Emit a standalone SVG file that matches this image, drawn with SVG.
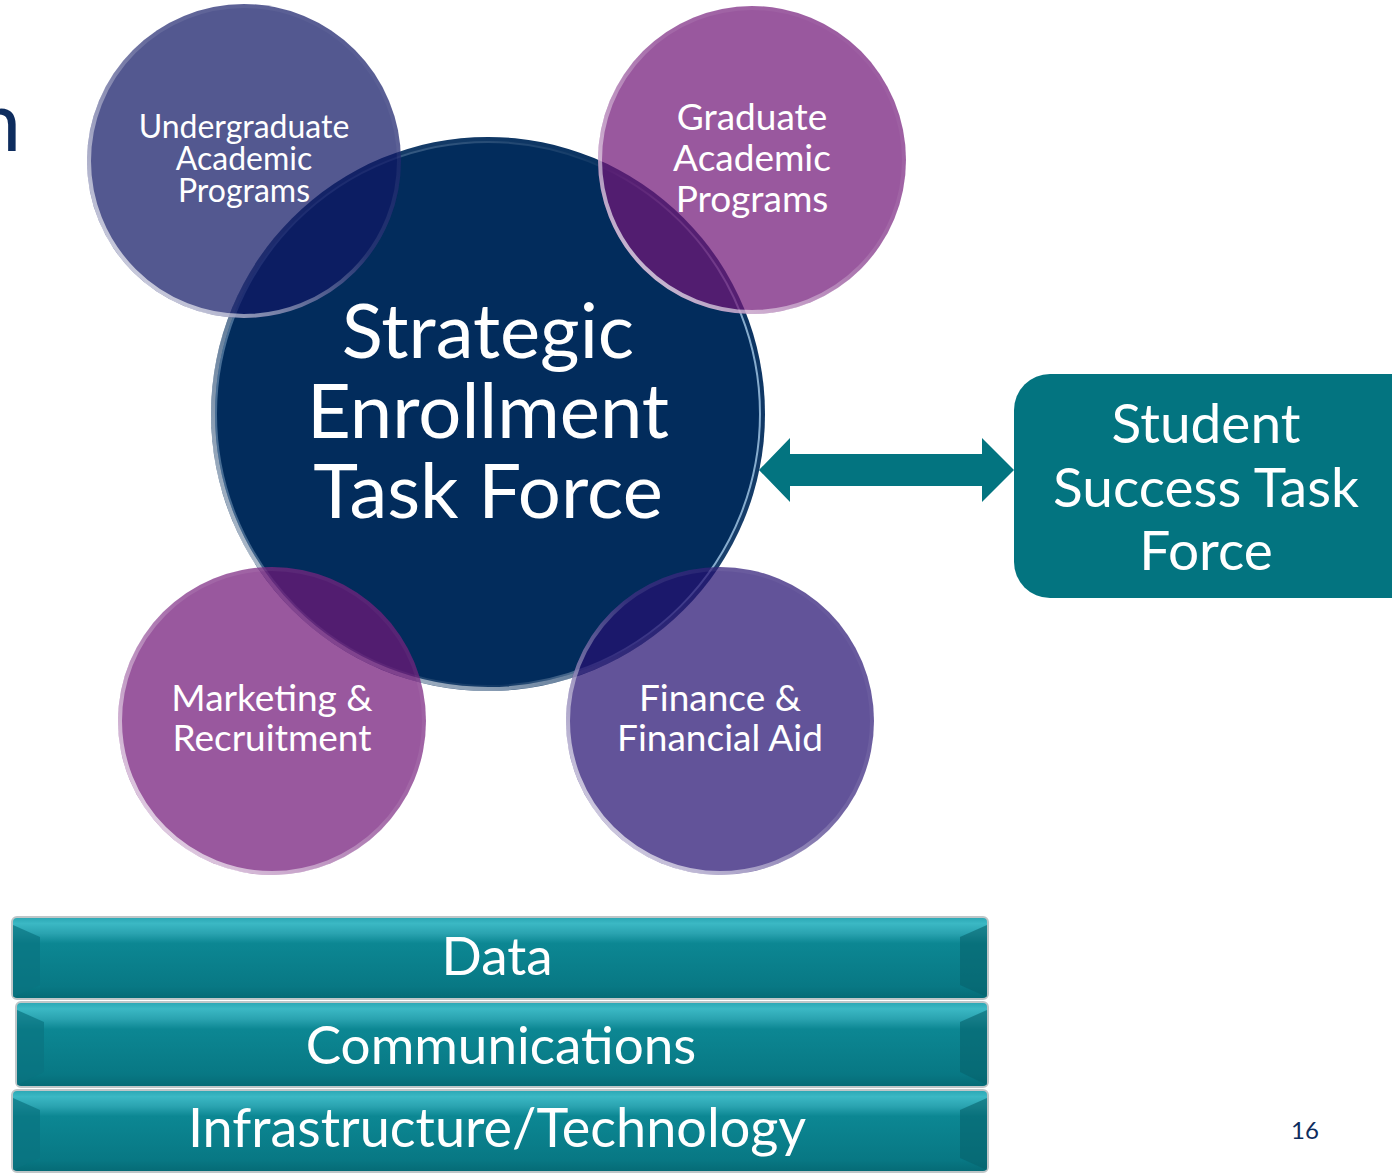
<svg xmlns="http://www.w3.org/2000/svg" width="1392" height="1174" viewBox="0 0 1392 1174">
<defs>
<style>
.t{font-family:Lato,"Open Sans","Liberation Sans",sans-serif;fill:#ffffff;text-anchor:middle}
.rim{fill:none;stroke:url(#rimG);stroke-width:4}
.rim2{fill:none;stroke:url(#rimG2);stroke-width:2}
</style>
<linearGradient id="rimG" x1="1" y1="0" x2="0" y2="1">
<stop offset="0" stop-color="#ffffff" stop-opacity="0"/>
<stop offset="0.45" stop-color="#ffffff" stop-opacity="0.1"/>
<stop offset="0.8" stop-color="#ffffff" stop-opacity="0.6"/>
<stop offset="1" stop-color="#ffffff" stop-opacity="0.85"/>
</linearGradient>
<linearGradient id="rimG2" x1="0" y1="0" x2="1" y2="0.2">
<stop offset="0" stop-color="#bfe3ff" stop-opacity="0.4"/>
<stop offset="0.7" stop-color="#ffffff" stop-opacity="0.05"/>
<stop offset="1" stop-color="#bfe3ff" stop-opacity="0.7"/>
</linearGradient>
<linearGradient id="barG" x1="0" y1="0" x2="0" y2="1">
<stop offset="0" stop-color="#2aa6b3"/>
<stop offset="0.08" stop-color="#3bb8c4"/>
<stop offset="0.2" stop-color="#2aa3b0"/>
<stop offset="0.32" stop-color="#0c8793"/>
<stop offset="0.85" stop-color="#087884"/>
<stop offset="1" stop-color="#056a75"/>
</linearGradient>
</defs>

<rect width="1392" height="1174" fill="#ffffff"/>
<text x="21" y="151" font-family="Lato,'Liberation Sans',sans-serif" font-size="84" fill="#0d2c5e" text-anchor="end">n</text>

<g id="strategic">
<circle cx="488" cy="414" r="277" fill="#022c5c"/>
<circle cx="488" cy="414" r="275" class="rim"/>
<circle cx="488" cy="414" r="272" class="rim2"/>
</g>

<g id="undergrad">
<circle cx="244" cy="161" r="157" fill="#101865" fill-opacity="0.72"/>
<circle cx="244" cy="161" r="155" class="rim"/>
<text class="t" font-size="32"><tspan x="244" y="138">Undergraduate</tspan><tspan x="244" y="170">Academic</tspan><tspan x="244" y="202">Programs</tspan></text>
</g>

<g id="graduate">
<circle cx="752" cy="160" r="154" fill="#721879" fill-opacity="0.72"/>
<circle cx="752" cy="160" r="152" class="rim"/>
<text class="t" font-size="37"><tspan x="752" y="130">Graduate</tspan><tspan x="752" y="171">Academic</tspan><tspan x="752" y="212">Programs</tspan></text>
</g>

<g id="marketing">
<circle cx="272" cy="721" r="154" fill="#721879" fill-opacity="0.72"/>
<circle cx="272" cy="721" r="152" class="rim"/>
<text class="t" font-size="37"><tspan x="272" y="711">Marketing &amp;</tspan><tspan x="272" y="751">Recruitment</tspan></text>
</g>

<g id="finance">
<circle cx="720" cy="721" r="154" fill="#261072" fill-opacity="0.72"/>
<circle cx="720" cy="721" r="152" class="rim"/>
<text class="t" font-size="37"><tspan x="720" y="711">Finance &amp;</tspan><tspan x="720" y="751">Financial Aid</tspan></text>
</g>

<g id="strategic-label">
<text class="t" font-size="76"><tspan x="488" y="358">Strategic</tspan><tspan x="488" y="438">Enrollment</tspan><tspan x="488" y="518">Task Force</tspan></text>
</g>

<g id="connectors">
<polygon points="759,470 790,438 790,454 982,454 982,438 1014,470 982,502 982,486 790,486 790,502" fill="#037480"/>
</g>

<g id="student-success">
<rect x="1014" y="374" width="420" height="224" rx="36" ry="36" fill="#037480"/>
<text class="t" font-size="55"><tspan x="1206" y="443">Student</tspan><tspan x="1206" y="507">Success Task</tspan><tspan x="1206" y="570">Force</tspan></text>
</g>

<g id="data">
<rect x="12" y="917" width="976" height="82" rx="5" fill="url(#barG)" stroke="#bfc6c8" stroke-width="2"/>
<polygon points="13,925 40,937 40,985 13,997" fill="#0a7480" opacity="0.7"/>
<polygon points="987,925 960,937 960,985 987,997" fill="#06636d" opacity="0.6"/>
<text class="t" font-size="53" x="497" y="975">Data</text>
</g>

<g id="communications">
<rect x="16" y="1002" width="972" height="85" rx="5" fill="url(#barG)" stroke="#bfc6c8" stroke-width="2"/>
<polygon points="17,1010 44,1022 44,1072 17,1085" fill="#0a7480" opacity="0.7"/>
<polygon points="987,1010 960,1022 960,1072 987,1085" fill="#06636d" opacity="0.6"/>
<text class="t" font-size="53" x="501" y="1064">Communications</text>
</g>

<g id="infrastructure">
<rect x="12" y="1090" width="976" height="82" rx="5" fill="url(#barG)" stroke="#bfc6c8" stroke-width="2"/>
<polygon points="13,1098 40,1110 40,1158 13,1170" fill="#0a7480" opacity="0.7"/>
<polygon points="987,1098 960,1110 960,1158 987,1170" fill="#06636d" opacity="0.6"/>
<text class="t" font-size="54" x="497" y="1147">Infrastructure/Technology</text>
</g>

<text x="1305" y="1139" font-family="Lato,'Liberation Sans',sans-serif" font-size="24" fill="#0d2c5e" text-anchor="middle">16</text>
</svg>
